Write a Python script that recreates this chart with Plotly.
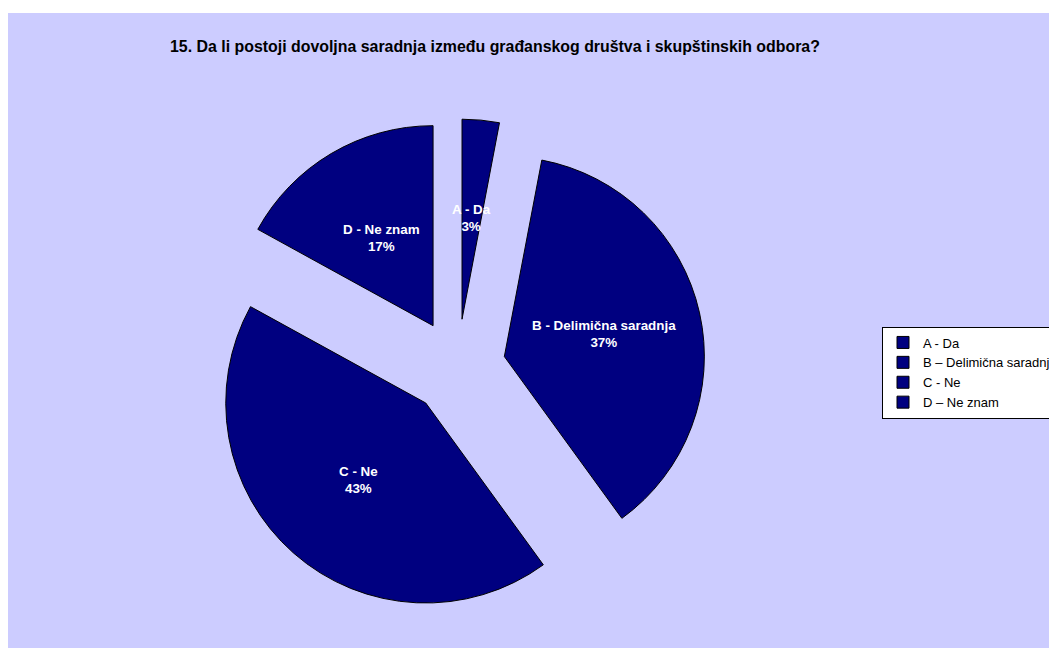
import math
import plotly.graph_objects as go

# Survey answers (share of respondents, %)
legend_labels = ["A - Da", "B – Delimična saradnja", "C - Ne", "D – Ne znam"]
slice_names = ["A - Da", "B - Delimična saradnja", "C - Ne", "D - Ne znam"]
values = [3, 37, 43, 17]

title_text = "15. Da li postoji dovoljna saradnja između građanskog društva i skupštinskih odbora?"

W, H = 1049, 648
NAVY = "#000080"
LAVENDER = "#CCCCFF"
FONT = "Liberation Sans, Arial, sans-serif"

# pie placement (pixels)
cx, cy = 457.5, 367.0
radius = 200.0
pull = 0.24
box = 2 * radius * (1 + pull)
dom_x = [(cx - 255) / W, (cx + 255) / W]
dom_y = [(H - (cy + box / 2)) / H, (H - (cy - box / 2)) / H]

fig = go.Figure()
fig.add_trace(go.Pie(
    labels=legend_labels,
    values=values,
    sort=False,
    direction="clockwise",
    rotation=0,
    pull=[pull] * len(values),
    marker=dict(colors=[NAVY] * len(values), line=dict(color="#000000", width=1)),
    textinfo="none",
    hoverinfo="skip",
    domain=dict(x=dom_x, y=dom_y),
))

# data labels placed along each slice's mid-angle
total = sum(values)
cum = 0.0
annotations = []
for name, v in zip(slice_names, values):
    mid = (cum + v / 2) / total * 2 * math.pi
    cum += v
    dist = radius * pull + radius * 0.51
    px = cx + dist * math.sin(mid)
    py = cy - dist * math.cos(mid)
    pct = round(v / total * 100)
    annotations.append(dict(
        x=px / W, y=1 - py / H, xref="paper", yref="paper",
        text=f"<b>{name}<br>{pct}%</b>", showarrow=False,
        font=dict(family=FONT, size=13.4, color="#FFFFFF"),
        xanchor="center", yanchor="middle", align="center",
    ))

annotations.append(dict(
    x=494.5 / W, y=1 - 47 / H, xref="paper", yref="paper",
    text=f"<b>{title_text}</b>", showarrow=False,
    font=dict(family=FONT, size=15.9, color="#000000"),
    xanchor="center", yanchor="middle",
))

fig.update_layout(
    width=W, height=H,
    margin=dict(l=0, r=0, t=0, b=0, autoexpand=False),
    paper_bgcolor=LAVENDER,
    shapes=[
        # white frame strips along the left and top edges
        dict(type="rect", xref="paper", yref="paper",
             x0=0, x1=8 / W, y0=0, y1=1,
             fillcolor="#FFFFFF", line=dict(width=0), layer="below"),
        dict(type="rect", xref="paper", yref="paper",
             x0=0, x1=1, y0=1 - 13 / H, y1=1,
             fillcolor="#FFFFFF", line=dict(width=0), layer="below"),
    ],
    annotations=annotations,
    showlegend=True,
    legend=dict(
        x=882 / W, y=1 - 326.5 / H, xanchor="left", yanchor="top",
        bgcolor="#FFFFFF", bordercolor="#000000", borderwidth=1,
        font=dict(family=FONT, size=13, color="#000000"),
        itemclick=False, itemdoubleclick=False,
    ),
)

fig.write_html("out.html")
